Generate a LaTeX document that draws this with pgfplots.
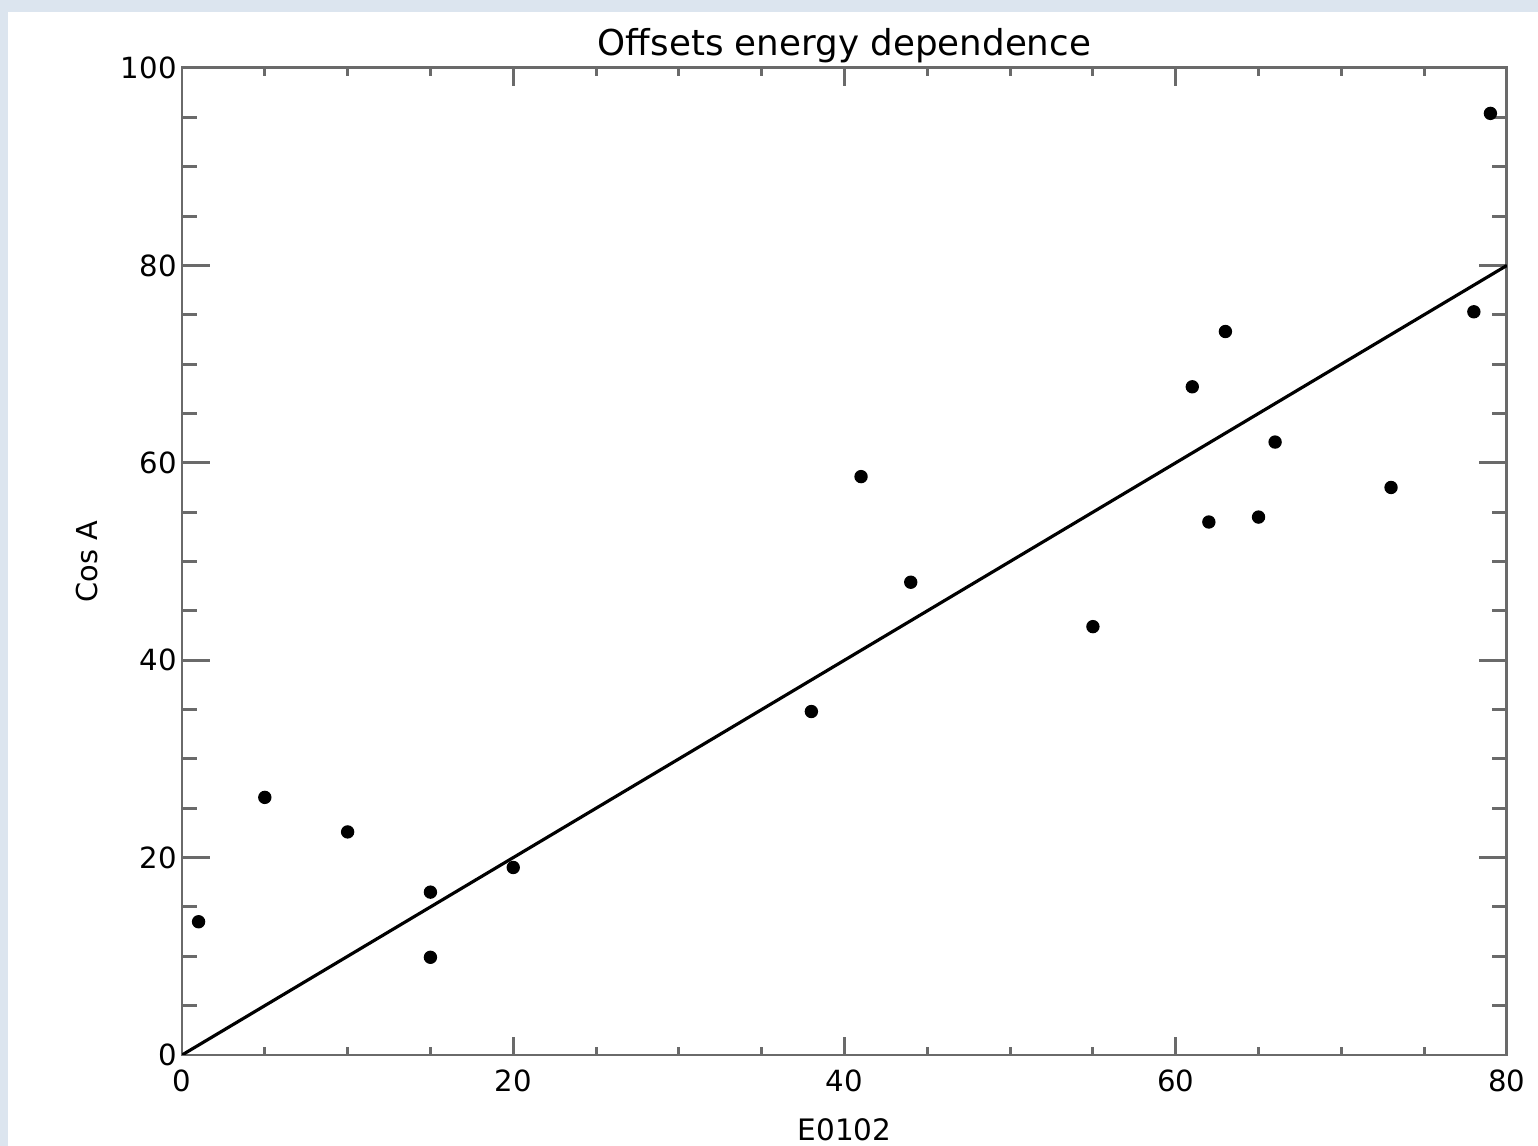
\documentclass[border=0pt]{standalone}
\usepackage{pgfplots}
\pgfplotsset{compat=1.18}
\usepackage{fontspec}
\setmainfont{DejaVu Sans}
\definecolor{bgblue}{HTML}{DCE5EF}
\definecolor{axgray}{HTML}{6A6A6A}
\begin{document}
\begin{tikzpicture}[x=1cm,y=1cm]
\fill[bgblue] (0,0) rectangle (15.38,11.46);
\fill[white] (0.08,0) rectangle (15.38,11.34);
\pgfplotsset{base/.style={scale only axis, width=13.25cm, height=9.87cm,
  at={(1.82cm,0.91cm)}, anchor=south west,
  xmin=0, xmax=80, ymin=0, ymax=100,
  axis line style={axgray, line width=0.85pt},
  tick style={axgray, line width=0.85pt},
  tick align=inside,
  ticklabel style={font=\fontsize{8.3}{10}\selectfont},
  /pgf/number format/assume math mode=true}}
\begin{axis}[base, xtick={0,20,...,80}, minor x tick num=3, ytick=\empty,
  major tick length=0.18cm, minor tick length=0.08cm,
  xticklabel style={anchor=base, yshift=-0.37cm},
  xlabel={E0102}, xlabel style={font=\fontsize{8.4}{10}\selectfont, at={(axis description cs:0.5,-0.0871)}, anchor=base},
  title={Offsets energy dependence}, title style={font=\fontsize{10.15}{12}\selectfont, at={(axis description cs:0.5,0.9909)}, anchor=base}]
\end{axis}
\begin{axis}[base, xtick=\empty, ytick={0,20,...,100}, minor y tick num=3,
  major tick length=0.28cm, minor tick length=0.15cm,
  yticklabel style={xshift=0.07cm},
  ylabel={Cos A}, ylabel style={font=\fontsize{8.2}{10}\selectfont, at={(axis description cs:-0.0634,0.5)}, anchor=base}]
\addplot[black, line width=0.9pt] coordinates {(0,0) (80,80)};
\addplot[only marks, mark=*, mark size=1.7pt, black] coordinates {
(1,13.5) (5,26.1) (10,22.6) (15,16.5) (15,9.9) (20,19.0) (38,34.8) (41,58.6)
(44,47.9) (55,43.4) (61,67.7) (62,54.0) (63,73.3) (65,54.5) (66,62.1)
(73,57.5) (78,75.3) (79,95.4)};
\end{axis}
\pgfresetboundingbox
\useasboundingbox (0,0) rectangle (15.38,11.46);
\end{tikzpicture}
\end{document}
